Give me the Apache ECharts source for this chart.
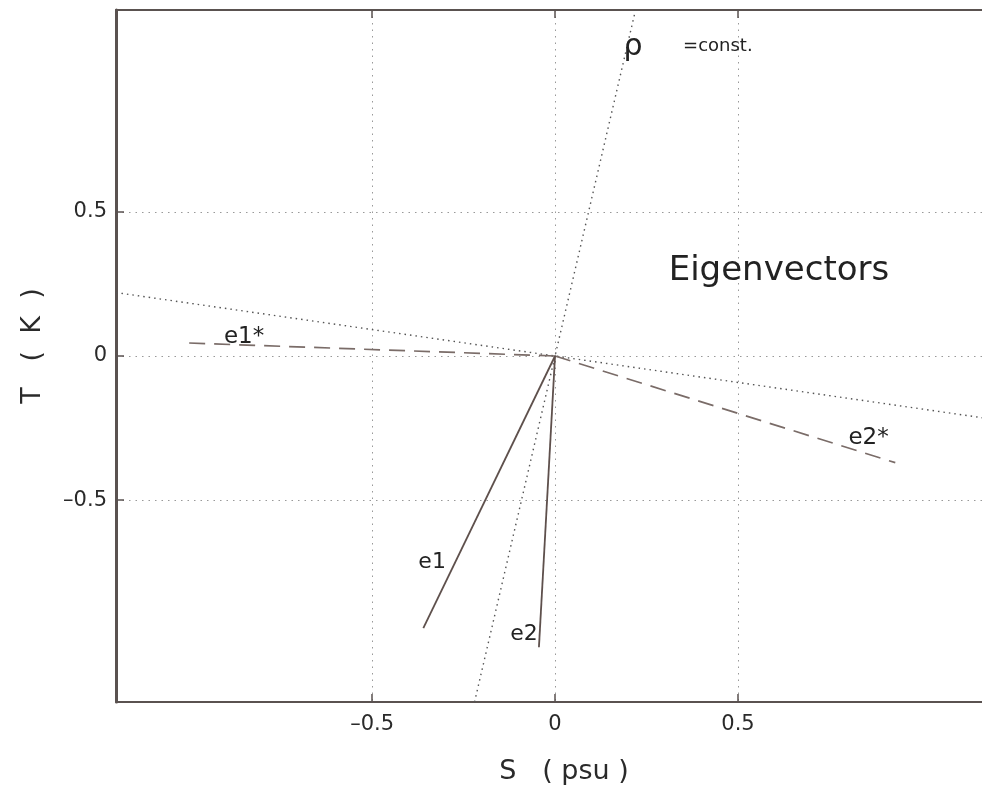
<!DOCTYPE html>
<html><head><meta charset="utf-8">
<script src="https://cdn.jsdelivr.net/npm/echarts@6/dist/echarts.min.js"></script>
<style>html,body{margin:0;padding:0;background:#fff}#c{width:982px;height:794px}</style>
</head><body><div id="c"></div>
<script>
// Data (S in psu, T in K)
const tickValues = [-0.5, 0, 0.5];
const tickLabels = ['\u20130.5', '0', '0.5'];
const rhoConstLine = [[-0.22, -1.2], [0.22, 1.2]];
const otherDottedLine = [[-1.2, 0.22], [1.2, -0.22]];
const e1Star = [[-1.0, 0.045], [0, 0]];
const e2Star = [[0, 0], [0.93, -0.37]];
const e1 = [[0, 0], [-0.36, -0.944]];
const e2 = [[0, 0], [-0.044, -1.01]];
const annotations = [
  {name: 'e1*', value: [-0.85, 0.066], size: 23},
  {name: 'e2*', value: [0.857, -0.283], size: 23},
  {name: 'e1', value: [-0.336, -0.717], size: 22},
  {name: 'e2', value: [-0.085, -0.965], size: 22},
  {name: '\u03c1', value: [0.213, 1.07], size: 30},
  {name: '=const.', value: [0.445, 1.073], size: 18},
  {name: 'Eigenvectors', value: [0.612, 0.294], size: 34}
];

const FONT = '"DejaVu Sans", sans-serif';
const axisColor = '#5a5250';
const chart = echarts.init(document.getElementById('c'));
const fmt = v => { const i = tickValues.findIndex(t => Math.abs(t - v) < 1e-9); return i >= 0 ? tickLabels[i] : ''; };
const baseX = {
  type: 'value', min: -1.2, max: 1.167,
  axisLine: {show: true, onZero: false, lineStyle: {color: axisColor, width: 2}},
  axisTick: {show: true, inside: true, length: 8, customValues: tickValues, lineStyle: {color: axisColor, width: 1.5}},
};
const option = {
  animation: false,
  backgroundColor: '#fff',
  grid: {left: 116, right: 0, top: 10, bottom: 92, containLabel: false},
  xAxis: [
    Object.assign({}, baseX, {
      position: 'bottom',
      name: 'S   ( psu )', nameLocation: 'middle', nameGap: 56,
      nameTextStyle: {fontFamily: FONT, fontSize: 27, color: '#2a2a2a', padding: [0, 0, 0, 30]},
      axisLabel: {customValues: tickValues, formatter: fmt, fontFamily: FONT, fontSize: 21, color: '#2a2a2a', margin: 12},
      splitLine: {show: true, lineStyle: {type: [1.5, 5], color: '#999', width: 1}}
    }),
    Object.assign({}, baseX, {
      position: 'top', axisLabel: {show: false}, splitLine: {show: false}
    })
  ],
  yAxis: [{
    type: 'value', min: -1.2, max: 1.2,
    name: 'T   (  K  )', nameLocation: 'middle', nameGap: 70, nameRotate: 90,
    nameTextStyle: {fontFamily: FONT, fontSize: 27, color: '#2a2a2a', padding: [0, 0, 0, 20]},
    axisLine: {show: true, onZero: false, lineStyle: {color: axisColor, width: 3}},
    axisTick: {show: true, inside: true, length: 8, customValues: tickValues, lineStyle: {color: axisColor, width: 1.5}},
    axisLabel: {customValues: tickValues, formatter: fmt, fontFamily: FONT, fontSize: 21, color: '#2a2a2a', margin: 9},
    splitLine: {show: true, lineStyle: {type: [1.5, 5], color: '#999', width: 1}}
  }],
  series: [
    {type: 'line', data: rhoConstLine, symbol: 'none', lineStyle: {color: '#555', width: 1.4, type: [1.5, 4]}, z: 3},
    {type: 'line', data: otherDottedLine, symbol: 'none', lineStyle: {color: '#555', width: 1.4, type: [1.5, 4]}, z: 3},
    {type: 'line', data: e1Star, symbol: 'none', lineStyle: {color: '#7a6c68', width: 1.7, type: [16, 9]}, z: 4},
    {type: 'line', data: e2Star, symbol: 'none', lineStyle: {color: '#7a6c68', width: 1.7, type: [16, 9]}, z: 4},
    {type: 'line', data: e1, symbol: 'none', lineStyle: {color: '#5e504c', width: 1.8}, z: 4},
    {type: 'line', data: e2, symbol: 'none', lineStyle: {color: '#5e504c', width: 1.8}, z: 4},
    {type: 'scatter', symbolSize: 0, z: 6, silent: true,
     data: annotations.map(a => ({name: a.name, value: a.value,
       label: {show: true, position: 'inside', formatter: a.name, fontFamily: FONT, fontSize: a.size, color: '#222', opacity: 1}}))}
  ]
};
chart.setOption(option);
</script>
</body></html>
